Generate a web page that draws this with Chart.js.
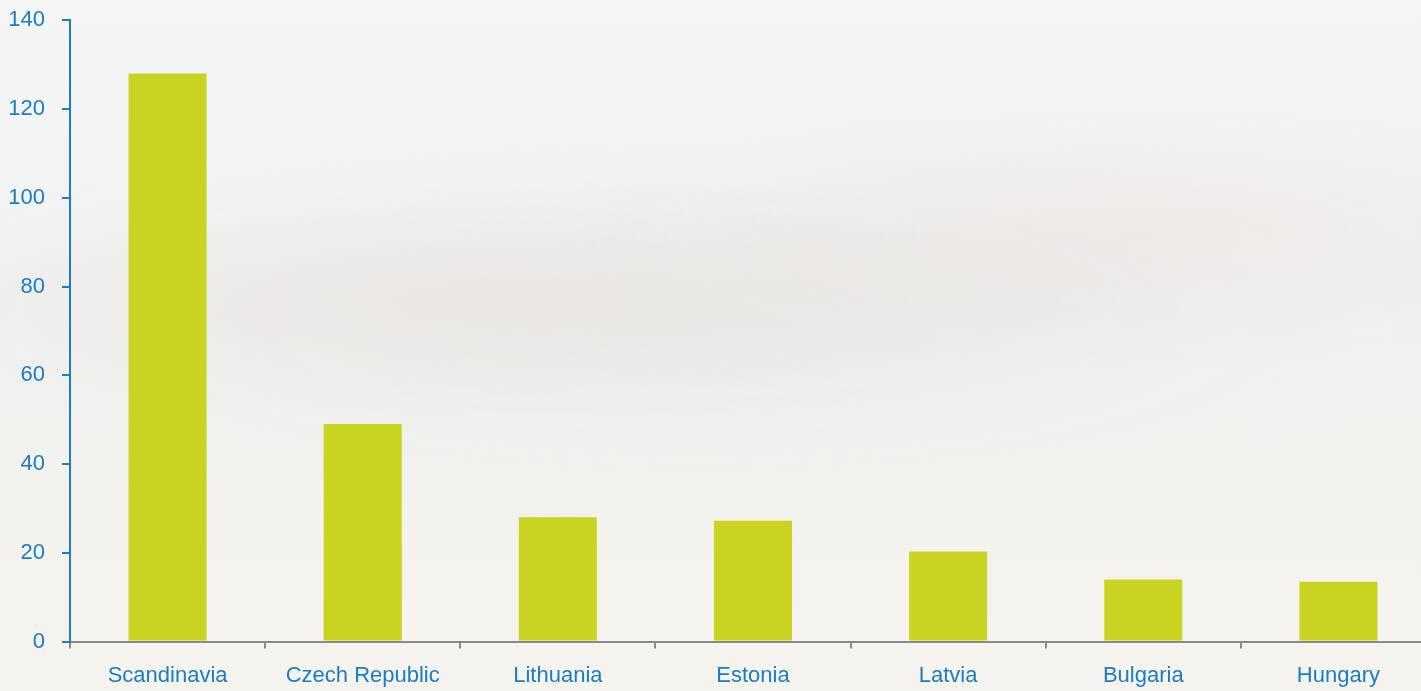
<!DOCTYPE html>
<html>
<head>
<meta charset="utf-8">
<script src="https://cdn.jsdelivr.net/npm/chart.js@4/dist/chart.umd.min.js"></script>
<style>
html,body{margin:0;padding:0;overflow:hidden;width:1421px;height:691px;}
body{background:
 radial-gradient(ellipse 700px 120px at 520px 300px, rgba(230,200,190,0.25), rgba(0,0,0,0)),
 radial-gradient(ellipse 600px 140px at 1150px 230px, rgba(235,205,195,0.22), rgba(0,0,0,0)),
 radial-gradient(ellipse 900px 220px at 700px 330px, rgba(225,235,232,0.5), rgba(0,0,0,0)),
 linear-gradient(180deg,#f4f5f5 0%,#f1f2f2 45%,#f4f2ec 75%,#f5f3ee 100%);}
#wrap{position:absolute;left:0;top:-10px;width:1436px;height:713px;}
</style>
</head>
<body>
<div id="wrap"><canvas id="c"></canvas></div>
<script>
const categories = ["Scandinavia","Czech Republic","Lithuania","Estonia","Latvia","Bulgaria","Hungary"];
const values = [128, 49, 28, 27.2, 20.3, 14, 13.5];
const yTicks = [0,20,40,60,80,100,120,140];

const blue = '#1a7dc0';
const font = {family:"'Liberation Sans','Arial',sans-serif", size:22};

new Chart(document.getElementById('c'), {
  type:'bar',
  data:{labels:categories, datasets:[{data:values, backgroundColor:'#c9d322', borderWidth:0, barPercentage:0.4, categoryPercentage:1}]},
  options:{
    responsive:true, maintainAspectRatio:false, animation:false,
    layout:{padding:{top:0,right:0,bottom:0,left:0}},
    plugins:{legend:{display:false}, tooltip:{enabled:false}},
    scales:{
      x:{
        grid:{offset:true, drawOnChartArea:false, drawTicks:true, tickLength:7, color:'#8a8a8a', lineWidth:2},
        border:{color:'#8a8a8a', width:2},
        ticks:{color:blue, font:font, padding:14, maxRotation:0}
      },
      y:{
        min:0, max:140,
        afterFit:s=>{s.width=70;},
        afterBuildTicks:s=>{s.ticks=yTicks.map(v=>({value:v}));},
        grid:{drawOnChartArea:false, drawTicks:true, tickLength:8, color:blue, lineWidth:2},
        border:{color:blue, width:2},
        ticks:{color:blue, font:font, padding:17}
      }
    }
  }
});
</script>
</body>
</html>
